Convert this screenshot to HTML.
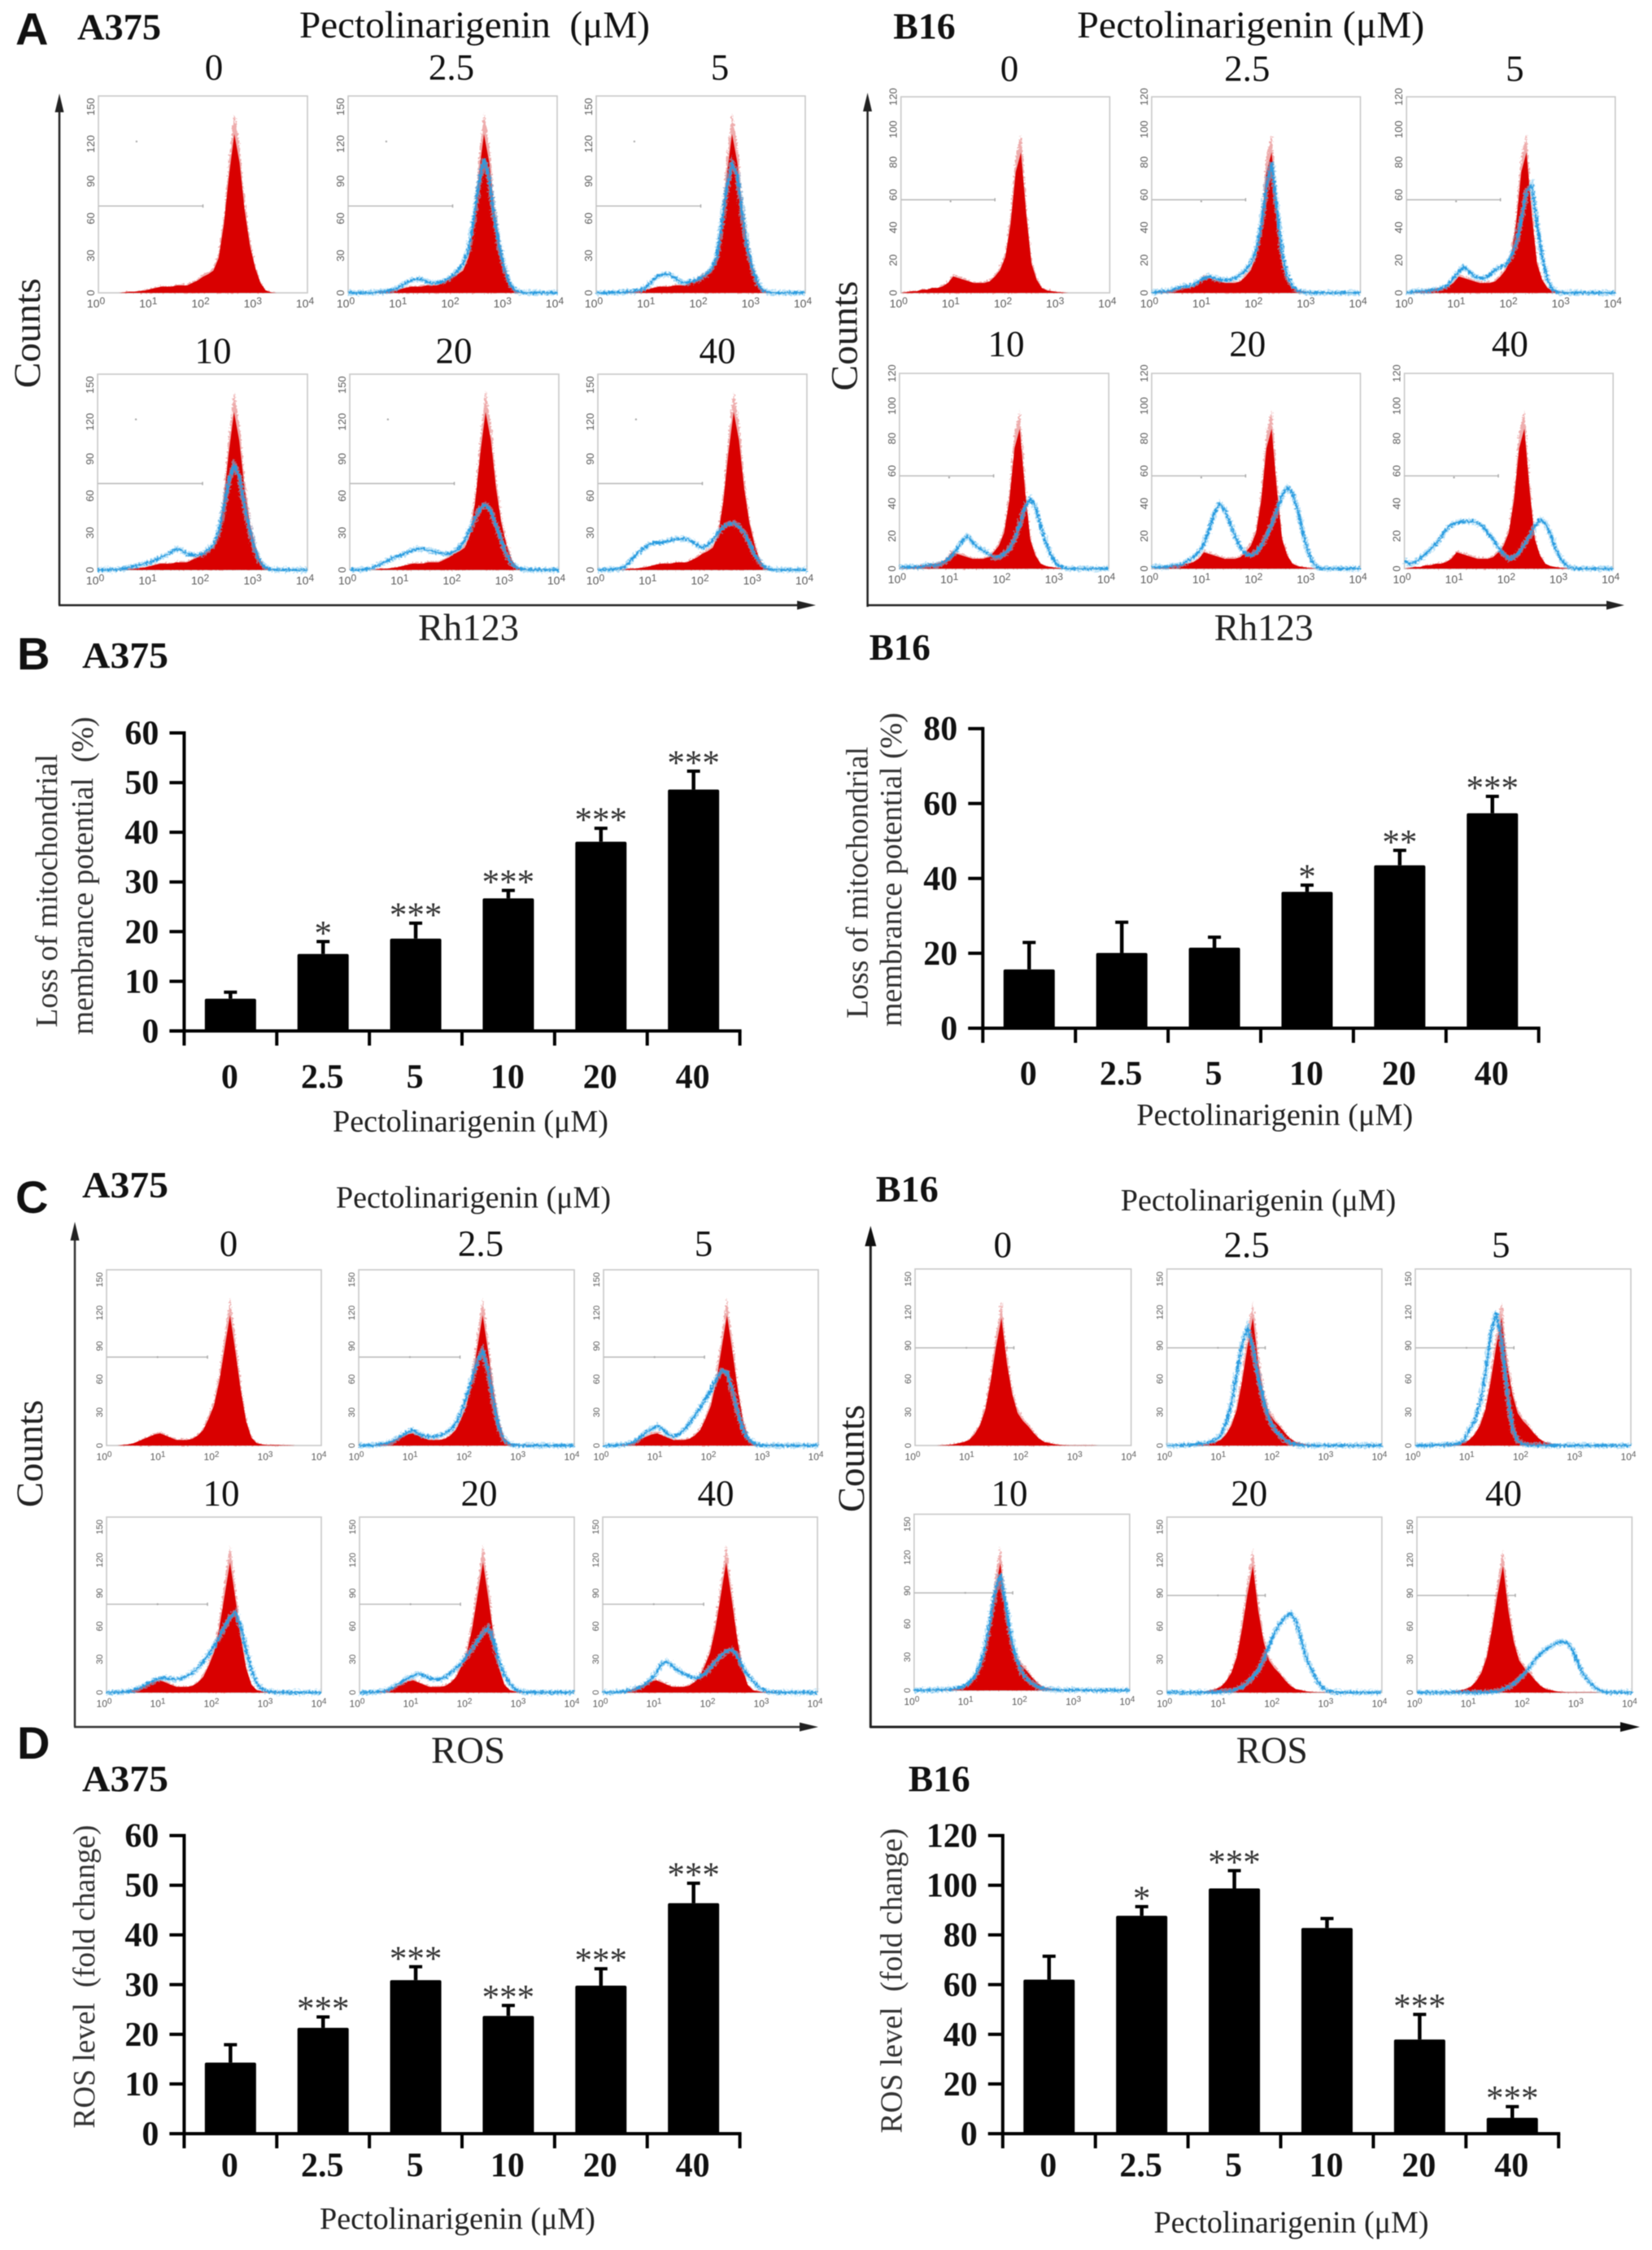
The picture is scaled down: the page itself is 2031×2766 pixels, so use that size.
<!DOCTYPE html>
<html lang="en">
<head>
<meta charset="utf-8">
<title>Pectolinarigenin flow cytometry and bar charts</title>
<style>
html,body{margin:0;padding:0;background:#fff;}
svg{display:block;filter:blur(0.55px);}
text{fill:#111;}
.t{font-family:"Liberation Serif",serif;}
.b{font-family:"Liberation Serif",serif;font-weight:bold;}
.s{font-family:"Liberation Sans",sans-serif;font-weight:bold;}
.d{font-family:"Liberation Serif",serif;font-size:45px;text-anchor:middle;}
.title-l{font-size:47px;}
.title-m{font-size:38px;fill:#222;}
.cell{font-size:46px;}
.letter{font-size:56px;}
.axis-name{font-size:47px;fill:#222;}
.ytitle{font-size:38px;fill:#333;text-anchor:middle;}
</style>
</head>
<body>
<svg id="figure" xmlns="http://www.w3.org/2000/svg" width="2031" height="2766" viewBox="0 0 2031 2766">
<defs>
<filter id="fuzz" x="-5%" y="-20%" width="110%" height="140%">
<feTurbulence type="fractalNoise" baseFrequency="0.4" numOctaves="2" seed="4"/>
<feDisplacementMap in="SourceGraphic" scale="7" xChannelSelector="R" yChannelSelector="G"/>
</filter>
</defs>
<rect width="2031" height="2766" fill="#fff"/>

<!-- Panel A text -->
<text class="s letter" x="19" y="55">A</text>
<text class="b cell" x="95" y="48.5" textLength="103" lengthAdjust="spacingAndGlyphs">A375</text>
<text class="t title-l" x="368" y="46" textLength="431" lengthAdjust="spacingAndGlyphs">Pectolinarigenin&#160;&#160;(μM)</text>
<text class="d" x="263" y="98">0</text>
<text class="d" x="555" y="98">2.5</text>
<text class="d" x="885" y="98">5</text>
<text class="d" x="262" y="446.5">10</text>
<text class="d" x="558" y="446.5">20</text>
<text class="d" x="882" y="446.5">40</text>
<text class="t axis-name" transform="translate(49,409.6) rotate(-90)" text-anchor="middle" textLength="135" lengthAdjust="spacingAndGlyphs">Counts</text>
<text class="t axis-name" x="514" y="787" textLength="124" lengthAdjust="spacingAndGlyphs">Rh123</text>

<text class="b cell" x="1098.3" y="47.5" textLength="76.3" lengthAdjust="spacingAndGlyphs">B16</text>
<text class="t title-l" x="1324.2" y="46" textLength="427" lengthAdjust="spacingAndGlyphs">Pectolinarigenin (μM)</text>
<text class="d" x="1241" y="99.5">0</text>
<text class="d" x="1533.3" y="99.5">2.5</text>
<text class="d" x="1862.4" y="99.5">5</text>
<text class="d" x="1237" y="438">10</text>
<text class="d" x="1533.8" y="438">20</text>
<text class="d" x="1856.4" y="438">40</text>
<text class="t axis-name" transform="translate(1053.7,413) rotate(-90)" text-anchor="middle" textLength="135" lengthAdjust="spacingAndGlyphs">Counts</text>
<text class="t axis-name" x="1492.7" y="787" textLength="122" lengthAdjust="spacingAndGlyphs">Rh123</text>

<!-- Panel A arrows -->
<g stroke="#222" stroke-width="2.5" fill="#222">
<line x1="73" y1="125" x2="73" y2="744"/><line x1="72" y1="744" x2="985" y2="744"/>
<polygon stroke="none" points="73,115 67.5,138 78.5,138"/><polygon stroke="none" points="1003,744 980,738.5 980,749.5"/>
</g>
<g stroke="#222" stroke-width="2.5" fill="#222">
<line x1="1066.6" y1="125" x2="1066.6" y2="746"/><line x1="1066.6" y1="744" x2="1981" y2="744"/>
<polygon stroke="none" points="1066.6,114 1061,137 1072,137"/><polygon stroke="none" points="1997,744 1975,738.5 1975,749.5"/>
</g>

<!-- Panel B text -->
<text class="s letter" x="21" y="823">B</text>
<text class="b cell" x="101" y="821" textLength="106" lengthAdjust="spacingAndGlyphs">A375</text>
<text class="t ytitle" transform="translate(70,1095) rotate(-90)" textLength="336" lengthAdjust="spacingAndGlyphs">Loss of mitochondrial</text>
<text class="t ytitle" transform="translate(114,1076.6) rotate(-90)" textLength="391" lengthAdjust="spacingAndGlyphs">membrance potential&#160;&#160;(%)</text>
<text class="t title-m" x="409" y="1391" textLength="339" lengthAdjust="spacingAndGlyphs">Pectolinarigenin (μM)</text>
<text class="b cell" x="1068.6" y="811" textLength="75.3" lengthAdjust="spacingAndGlyphs">B16</text>
<text class="t ytitle" transform="translate(1066.5,1085) rotate(-90)" textLength="334" lengthAdjust="spacingAndGlyphs">Loss of mitochondrial</text>
<text class="t ytitle" transform="translate(1108.2,1069) rotate(-90)" textLength="386" lengthAdjust="spacingAndGlyphs">membrance potential (%)</text>
<text class="t title-m" x="1397.2" y="1383" textLength="340" lengthAdjust="spacingAndGlyphs">Pectolinarigenin (μM)</text>

<!-- Panel C text -->
<text class="s letter" x="19" y="1491">C</text>
<text class="b cell" x="101" y="1472" textLength="106" lengthAdjust="spacingAndGlyphs">A375</text>
<text class="t title-m" x="413" y="1484.5" textLength="338" lengthAdjust="spacingAndGlyphs">Pectolinarigenin (μM)</text>
<text class="d" x="281" y="1544">0</text>
<text class="d" x="591" y="1544">2.5</text>
<text class="d" x="865" y="1544">5</text>
<text class="d" x="272" y="1851">10</text>
<text class="d" x="589" y="1851">20</text>
<text class="d" x="880" y="1851">40</text>
<text class="t axis-name" transform="translate(52,1787) rotate(-90)" text-anchor="middle" textLength="132" lengthAdjust="spacingAndGlyphs">Counts</text>
<text class="t axis-name" x="530" y="2167" textLength="91" lengthAdjust="spacingAndGlyphs">ROS</text>

<text class="b cell" x="1076.7" y="1477" textLength="77" lengthAdjust="spacingAndGlyphs">B16</text>
<text class="t title-m" x="1377.8" y="1488" textLength="338.5" lengthAdjust="spacingAndGlyphs">Pectolinarigenin (μM)</text>
<text class="d" x="1232.8" y="1545.6">0</text>
<text class="d" x="1532.6" y="1545.6">2.5</text>
<text class="d" x="1845.3" y="1545.6">5</text>
<text class="d" x="1241" y="1851">10</text>
<text class="d" x="1535.8" y="1851">20</text>
<text class="d" x="1848.5" y="1851">40</text>
<text class="t axis-name" transform="translate(1061.9,1793) rotate(-90)" text-anchor="middle" textLength="132" lengthAdjust="spacingAndGlyphs">Counts</text>
<text class="t axis-name" x="1519.7" y="2167" textLength="88" lengthAdjust="spacingAndGlyphs">ROS</text>

<g stroke="#333" stroke-width="2.5" fill="#222">
<line x1="92" y1="1512" x2="92" y2="2123"/><line x1="91" y1="2123" x2="990" y2="2123"/>
<polygon stroke="none" points="92,1502 86.5,1525 97.5,1525"/><polygon stroke="none" points="1006,2123 983,2117.5 983,2128.5"/>
</g>
<g stroke="#222" stroke-width="3" fill="#111">
<line x1="1070.3" y1="1520" x2="1070.3" y2="2124"/><line x1="1069.5" y1="2123" x2="2000" y2="2123"/>
<polygon stroke="none" points="1070.3,1507 1063.3,1532 1077.3,1532"/><polygon stroke="none" points="2016,2123 1992,2117 1992,2129"/>
</g>

<!-- Panel D text -->
<text class="s letter" x="21" y="2162">D</text>
<text class="b cell" x="101" y="2202" textLength="106" lengthAdjust="spacingAndGlyphs">A375</text>
<text class="t ytitle" transform="translate(116,2430) rotate(-90)" textLength="373" lengthAdjust="spacingAndGlyphs">ROS level&#160;&#160;(fold change)</text>
<text class="t title-m" x="393" y="2740" textLength="339" lengthAdjust="spacingAndGlyphs">Pectolinarigenin (μM)</text>
<text class="b cell" x="1116.7" y="2202" textLength="76" lengthAdjust="spacingAndGlyphs">B16</text>
<text class="t ytitle" transform="translate(1108.3,2435) rotate(-90)" textLength="375" lengthAdjust="spacingAndGlyphs">ROS level&#160;&#160;(fold change)</text>
<text class="t title-m" x="1418.5" y="2744.5" textLength="338" lengthAdjust="spacingAndGlyphs">Pectolinarigenin (μM)</text>
</svg>

<script>
// ---- Shared categories ----
const doseCategories = ['0','2.5','5','10','20','40'];
const logDecadeLabels = ['0','1','2','3','4'];
const countTicks150 = [0,30,60,90,120,150];
const countTicks120 = [0,20,40,60,80,100,120];
const decadeStep = 0.1; // histogram bins are spaced 0.1 log10 units, first bin at 10^0

// ---- Panel A, A375 (Rh123) histograms: counts per bin, missing bins are zero ----
const rhA375Control = [0,0,0,0,0,0.5,1,1,1.5,2,3,4,5,5,5,6,6,6,8,10,13,15,18,28,55,95,128,105,66,38,20,8,2,0.5];
const rhA375Dose2_5 = [0,0,0,0,0,0.3,1,1,2,3,5,8,10,11,11,9,8,8,9,11,14,18,24,34,58,88,108,92,60,36,18,7,2,0.5];
const rhA375Dose5 = [0,0,0,0,0.3,0.5,1,1,2,3,6,11,14,15,15,12,9,8,9,10,12,15,19,28,55,85,104,95,62,35,18,7,2,0.5];
const rhA375Dose10 = [0,0,0,0,0.5,1,2,3,4,5,6,8,10,12,14,17,16,13,12,12,13,16,20,30,50,72,85,76,52,32,16,6,2,0.5];
const rhA375Dose20 = [0,0,0,0.5,1,3,5,7,9,11,12,14,16,17,17,16,15,14,13,13,15,18,24,33,42,50,53,48,36,24,12,5,2,0.5];
const rhA375Dose40 = [0,0,0,0.5,1,2,6,11,15,18,21,22,22,23,24,25,25,25,23,20,18,20,24,30,35,37,38,35,30,22,12,6,2,0.5];

// ---- Panel A, B16 (Rh123) histograms ----
const rhB16Control = [0,0.5,1,1,2,2,3,3,4,6,10,9,8,7,6,6,6,7,10,14,22,42,74,86,48,18,8,3,1.5,1,0.5,0.3];
const rhB16Dose2_5 = [0,0.5,1,1,2,3,4,4,5,7,9,10,9,8,8,8,9,11,14,18,26,42,65,80,52,24,10,4,1.5,0.5];
const rhB16Dose5 = [0,0.5,1,1,1,2,2,3,5,9,13,16,13,10,9,9,11,14,16,17,22,30,45,62,66,42,22,8,2,0.5];
const rhB16Dose10 = [1,1,1,1,1,2,2,2,3,5,8,12,17,20,16,13,11,9,7,7,9,12,18,27,38,43,38,26,16,8,3,1];
const rhB16Dose20 = [1,1,1,1,2,2,3,5,7,10,15,24,34,40,36,28,20,13,9,8,10,14,20,27,36,45,50,46,36,22,10,3,0.5];
const rhB16Dose40 = [5,3,4,6,9,12,15,19,24,27,28,29,29,29,28,26,22,18,13,9,6,7,10,15,20,26,30,28,21,12,6,2,0.5];

// ---- Panel C, A375 (ROS) histograms ----
const rosA375Control = [0,0,0,0.5,1,2,4,6,8,10,11,9,7,5,5,5,6,9,14,24,36,58,88,118,85,50,22,7,2,1,0.5,0.5,0.5,0.3,0.3];
const rosA375Dose2_5 = [0,0,0,0.5,1,2,3,6,9,12,14,11,9,8,8,9,11,14,20,30,44,60,76,86,68,40,16,5,1.5,0.5];
const rosA375Dose5 = [0,0,0,0.5,1,2,4,8,12,15,18,15,10,8,10,14,20,27,34,42,50,60,68,66,50,30,14,6,2,0.5];
const rosA375Dose10 = [0,0,0,0.5,1,2,4,6,9,11,13,13,12,12,13,15,18,22,28,34,42,50,60,68,73,60,38,20,8,3,1,0.3];
const rosA375Dose20 = [0,0,0,0.5,1,2,4,7,10,13,15,17,15,13,12,12,14,18,22,27,33,40,47,54,59,46,28,16,8,3,1,0.3];
const rosA375Dose40 = [0,0,0,0.5,1,2,3,5,8,12,18,26,28,24,20,17,15,13,14,17,22,28,33,37,39,34,24,16,10,5,2,0.5];

// ---- Panel C, B16 (ROS) histograms ----
const rosB16Control = [0,0,0,0,0,0.3,0.5,1,2,3,5,10,18,32,58,89,115,74,46,29,22,17,11,6,3,2,1,0.5,0.3,0.2,0.2,0.2,0.2,0.2];
const rosB16Dose2_5 = [0,0,0,0.3,0.5,1,1.5,2,3,5,9,20,38,65,92,106,88,62,40,24,15,9,5,2,1,0.3];
const rosB16Dose5 = [0,0,0,0.3,0.5,0.5,1,1,2,4,14,22,38,65,100,120,95,50,16,4,1.5,0.5];
const rosB16Dose10 = [0,0,0,0.3,0.5,0.5,1,1,2,3,6,11,20,35,60,88,105,78,48,28,16,10,6,3,1.5,1,0.5,0.3,0.2,0.2,0.2,0.2,0.2];
const rosB16Dose20 = [0,0,0,0,0,0,0,0,0,0,0.5,1,1.5,3,5,9,14,20,30,42,54,62,68,72,65,48,30,20,10,4,1.5,0.5];
const rosB16Dose40 = [0,0,0,0,0,0,0,0,0,0,0,0,0,0,0.5,1,3,5,8,12,17,23,30,35,39,42,45,46,45,38,26,16,10,5,2,0.5];

// ---- Panel B bar values ----
const lossA375Ticks = [0,10,20,30,40,50,60];
const lossA375Means = [6.5,15.5,18.6,26.7,38.1,48.6];
const lossA375ErrorTops = [7.8,18,21.7,28.3,40.8,52.3];
const lossA375Stars = ['','*','***','***','***','***'];
const lossB16Ticks = [0,20,40,60,80];
const lossB16Means = [15.7,20.1,21.5,36.4,43.5,57.4];
const lossB16ErrorTops = [22.9,28.3,24.3,38.2,47.5,61.9];
const lossB16Stars = ['','','','*','**','***'];

// ---- Panel D bar values ----
const rosA375Ticks = [0,10,20,30,40,50,60];
const rosA375Means = [14.3,21.3,30.9,23.7,29.8,46.4];
const rosA375ErrorTops = [17.9,23.5,33.6,25.8,33.2,50.4];
const rosA375Stars = ['','***','***','***','***','***'];
const rosB16Ticks = [0,20,40,60,80,100,120];
const rosB16Means = [62,87.7,98.7,82.8,37.9,6.4];
const rosB16ErrorTops = [71.4,91.4,105.9,86.6,48,10.9];
const rosB16Stars = ['','*','***','','***','***'];

const SVG_NS = 'http://www.w3.org/2000/svg';
const root = document.getElementById('figure');

function mk(tag, attrs, parent, name) {
  const el = document.createElementNS(SVG_NS, tag);
  for (const k in attrs) el.setAttribute(k, attrs[k]);
  
  
  parent.appendChild(el);
  return el;
}

function drawHistogram(parent, name, box, cfg, blue, dose) {
  const g = mk('g', {}, parent, name);
  const xScale = d => box.x + d / 4 * box.w;
  const yScale = c => box.y + box.h - c / cfg.yMax * box.h;
  const bins = 41;
  const poly = (series, factor) => {
    const pts = [xScale(0) + ',' + yScale(0)];
    for (let i = 0; i < bins; i++) {
      pts.push(xScale(i * decadeStep).toFixed(1) + ',' + yScale((series[i] || 0) * factor).toFixed(1));
    }
    pts.push(xScale(4) + ',' + yScale(0));
    return pts.join(' ');
  };
  const line = series => {
    const pts = [];
    for (let i = 0; i < bins; i++) {
      pts.push(xScale(i * decadeStep).toFixed(1) + ',' + yScale(series[i] || 0).toFixed(1));
    }
    return pts.join(' ');
  };

  mk('rect', {x: box.x, y: box.y, width: box.w, height: box.h, fill: '#fff', stroke: '#c9c9c9', 'stroke-width': 1.6}, g, 'plot-frame');

  // gate marker
  const gy = yScale(cfg.gateCount);
  mk('line', {x1: box.x, y1: gy, x2: xScale(cfg.gateEnd), y2: gy, stroke: '#bdbdbd', 'stroke-width': 1.6}, g, 'gate-line');
  mk('line', {x1: xScale(cfg.gateEnd), y1: gy - 2, x2: xScale(cfg.gateEnd), y2: gy + 2, stroke: '#aaa', 'stroke-width': 1.5}, g, 'gate-end-cap');
  mk('circle', {cx: xScale(cfg.dotLog), cy: yScale(cfg.dotCount), r: 1.2, fill: '#aaa'}, g, 'gate-label-dot');

  // tick labels
  cfg.yTicks.forEach(t => {
    const ty = mk('text', {class: 's', transform: 'translate(' + (box.x - 5) + ',' + yScale(t) + ') rotate(-90)', 'text-anchor': 'middle', 'font-size': cfg.tickSize}, g, 'y-tick-label');
    ty.style.fontWeight = 'normal';
    ty.style.fill = '#5c5c5c';
    ty.textContent = t;
  });
  logDecadeLabels.forEach((lab, i) => {
    const tx = mk('text', {class: 's', x: xScale(i) - 3, y: box.y + box.h + 18, 'text-anchor': 'middle', 'font-size': cfg.tickSize + 1}, g, 'x-tick-label');
    tx.style.fontWeight = 'normal';
    tx.style.fill = '#5c5c5c';
    tx.appendChild(document.createTextNode('10'));
    const sup = mk('tspan', {dy: -4, 'font-size': cfg.tickSize - 1}, tx, 'x-tick-exponent');
    sup.textContent = lab;
  });

  // reference (control) histogram
  const halo = mk('polygon', {points: poly(cfg.red, 1.13), fill: '#e06a6a', 'fill-opacity': 0.55, filter: 'url(#fuzz)'}, g, 'control-histogram-halo');
  halo.setAttribute('stroke', 'none');
  mk('polygon', {points: poly(cfg.red, 1), fill: '#d90000'}, g, 'control-histogram-' + dose);

  // treated histogram
  if (blue) {
    const b = mk('g', {filter: 'url(#fuzz)'}, g, 'treated-histogram-' + dose);
    mk('polyline', {points: line(blue), fill: 'none', stroke: '#7cc6f0', 'stroke-width': 6.5, 'stroke-opacity': 0.55}, b, 'treated-line-halo');
    mk('polyline', {points: line(blue), fill: 'none', stroke: '#2a9ce0', 'stroke-width': 2.6}, b, 'treated-line');
  }
}

function drawFlowGroup(name, boxes, cfg, blues) {
  const g = mk('g', {}, root, name);
  boxes.forEach((b, i) => {
    const box = {x: b[0], y: b[1], w: b[2], h: b[3]};
    drawHistogram(g, 'histogram-dose-' + doseCategories[i].replace('.', '-'), box, cfg, blues[i], doseCategories[i].replace('.', '-'));
  });
}

drawFlowGroup('panel-a-a375-histograms',
  [[121,118,257,242],[428,118,257,242],[733,118,257,242],[120,460,258,240.5],[430,460,257,240.5],[735,460,257,240.5]],
  {yMax:158.7, yTicks:countTicks150, gateCount:70, gateEnd:2.0, dotLog:0.73, dotCount:122, tickSize:13, red:rhA375Control},
  [null,rhA375Dose2_5,rhA375Dose5,rhA375Dose10,rhA375Dose20,rhA375Dose40]);

drawFlowGroup('panel-a-b16-histograms',
  [[1107.7,119,256.6,241],[1415.9,119,256.6,241],[1729.2,119,256.6,241],[1105.8,459,257.3,240],[1415.9,459,256.6,240],[1726.6,459,256.6,240]],
  {yMax:120, yTicks:countTicks120, gateCount:57, gateEnd:1.8, dotLog:0.95, dotCount:56, tickSize:13, red:rhB16Control},
  [null,rhB16Dose2_5,rhB16Dose5,rhB16Dose10,rhB16Dose20,rhB16Dose40]);

drawFlowGroup('panel-c-a375-histograms',
  [[131,1561,264,216],[441,1561,265,216],[742,1561,264,216],[131,1865,264,215.6],[442,1865,264,215.6],[741,1865,264,215.6]],
  {yMax:159, yTicks:countTicks150, gateCount:80, gateEnd:1.88, dotLog:0.95, dotCount:80, tickSize:11, red:rosA375Control},
  [null,rosA375Dose2_5,rosA375Dose5,rosA375Dose10,rosA375Dose20,rosA375Dose40]);

drawFlowGroup('panel-c-b16-histograms',
  [[1125,1560,265.6,217],[1434.6,1560,264.3,217],[1740,1560,265,217],[1123.8,1861.5,265,216.5],[1434.6,1865,264.3,215.6],[1742,1865,264.4,215.6]],
  {yMax:159, yTicks:countTicks150, gateCount:88, gateEnd:1.83, dotLog:0.95, dotCount:88, tickSize:11, red:rosB16Control},
  [null,rosB16Dose2_5,rosB16Dose5,rosB16Dose10,rosB16Dose20,rosB16Dose40]);

function drawBars(name, c, ticks, means, errs, stars) {
  const g = mk('g', {}, root, name);
  const yScale = v => c.y0 - v / c.max * (c.y0 - c.yTop);
  const band = (c.x1 - c.x0) / means.length;
  const xCenter = i => c.x0 + (i + 0.5) * band;

  means.forEach((m, i) => {
    const cx = xCenter(i);
    const topY = yScale(m);
    const errY = yScale(errs[i]);
    mk('line', {x1: cx, y1: topY, x2: cx, y2: errY, stroke: '#000', 'stroke-width': 4.5}, g, 'error-bar-' + doseCategories[i].replace('.', '-'));
    mk('line', {x1: cx - 8, y1: errY, x2: cx + 8, y2: errY, stroke: '#000', 'stroke-width': 4}, g, 'error-cap-' + doseCategories[i].replace('.', '-'));
    mk('rect', {x: cx - 31.5, y: topY, width: 63, height: c.y0 - topY, rx: 2, fill: '#000'}, g, 'bar-' + doseCategories[i].replace('.', '-'));
    if (stars[i]) {
      const s = mk('text', {class: 't', x: cx, y: errY + 4, 'text-anchor': 'middle', 'font-size': 43}, g, 'significance-' + doseCategories[i].replace('.', '-'));
      s.style.fill = '#333';
      s.textContent = stars[i];
    }
    const lab = mk('text', {class: 'b', x: cx - 1, y: c.labelY, 'text-anchor': 'middle', 'font-size': 42}, g, 'x-tick-label');
    lab.textContent = doseCategories[i];
  });

  mk('line', {x1: c.x0, y1: yScale(ticks[ticks.length - 1]) - 2, x2: c.x0, y2: c.y0 + 18, stroke: '#000', 'stroke-width': 4}, g, 'y-axis-line');
  mk('line', {x1: c.x0 - 18, y1: c.y0, x2: c.x1 + 2, y2: c.y0, stroke: '#000', 'stroke-width': 4}, g, 'x-axis-line');
  for (let i = 1; i <= means.length; i++) {
    mk('line', {x1: c.x0 + i * band, y1: c.y0, x2: c.x0 + i * band, y2: c.y0 + 18, stroke: '#000', 'stroke-width': 4}, g, 'x-tick');
  }
  ticks.forEach(t => {
    mk('line', {x1: c.x0 - 18, y1: yScale(t), x2: c.x0, y2: yScale(t), stroke: '#000', 'stroke-width': 4}, g, 'y-tick');
    const lab = mk('text', {class: 'b', x: c.x0 - 31, y: yScale(t) + 14, 'text-anchor': 'end', 'font-size': 42}, g, 'y-tick-label');
    lab.textContent = t;
  });
}

drawBars('panel-b-a375-chart', {x0:226.4, x1:909.6, yTop:901, y0:1267.4, max:60, labelY:1337.7}, lossA375Ticks, lossA375Means, lossA375ErrorTops, lossA375Stars);
drawBars('panel-b-b16-chart', {x0:1208.3, x1:1891.7, yTop:895.7, y0:1264, max:80, labelY:1333.5}, lossB16Ticks, lossB16Means, lossB16ErrorTops, lossB16Stars);
drawBars('panel-d-a375-chart', {x0:226.4, x1:909.6, yTop:2256.5, y0:2623, max:60, labelY:2675.5}, rosA375Ticks, rosA375Means, rosA375ErrorTops, rosA375Stars);
drawBars('panel-d-b16-chart', {x0:1232.8, x1:1916.2, yTop:2256.5, y0:2623, max:120, labelY:2675.5}, rosB16Ticks, rosB16Means, rosB16ErrorTops, rosB16Stars);
</script>
</body>
</html>
